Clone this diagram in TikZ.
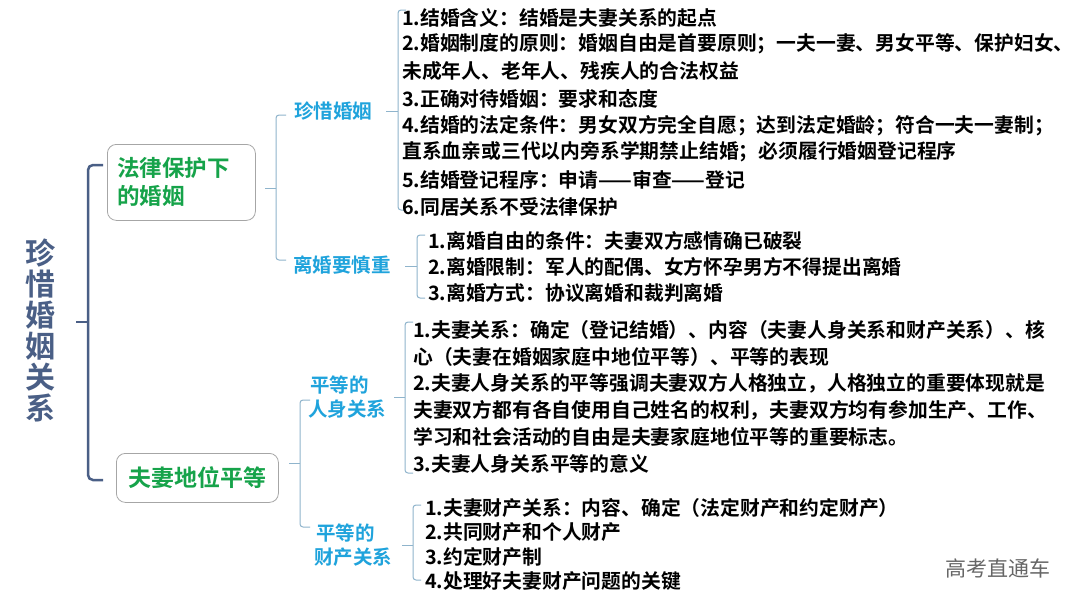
\documentclass[tikz,border=0pt]{standalone}
\usepackage{fontspec}
\setmainfont{Noto Sans CJK SC}[BoldFont={Noto Sans CJK SC Bold}]
\begin{document}
\begin{tikzpicture}[x=1pt,y=-1pt,
  item/.style={anchor=west,inner sep=0pt,font=\bfseries\fontsize{19.8}{22}\selectfont,text=black},
  lab/.style={inner sep=0pt,font=\bfseries\fontsize{19.5}{24}\selectfont,text=labc,align=left},
  box/.style={draw=gray!70,rounded corners=9pt,line width=0.8pt,fill=white},
  brk/.style={draw=brc,line width=1pt,rounded corners=3pt},
  mainbrk/.style={draw=mainc,line width=2.5pt,rounded corners=5pt}]
\definecolor{labc}{HTML}{1FA3DC}
\definecolor{brc}{HTML}{8FB4CC}
\definecolor{mainc}{HTML}{4A5F86}
\definecolor{grn}{HTML}{16A34A}
\useasboundingbox (0,0) rectangle (1080,608);
\fill[white] (0,0) rectangle (1080,608);
% title
\node[inner sep=0pt,align=center,font=\bfseries\fontsize{30}{31}\selectfont,text=mainc] (title) at (40,330) {珍\\惜\\婚\\姻\\关\\系};
% main bracket
\draw[mainbrk] (103,165) -- (88,165) -- (88,480) -- (103,480);
\draw[mainc,line width=2.5pt] (88,322) -- (76,322);
% boxes
\node[box,minimum width=148pt,minimum height=76pt,anchor=north west] (b1) at (107,144) {};
\node[anchor=west,align=left,inner sep=0pt,font=\bfseries\fontsize{22.5}{28}\selectfont,text=grn] (b1t) at (117,182) {法律保护下\\的婚姻};
\node[box,minimum width=162pt,minimum height=49pt,anchor=north west] (b2) at (116,453) {};
\node[inner sep=0pt,font=\bfseries\fontsize{23}{24}\selectfont,text=grn] (b2t) at (b2.center) {夫妻地位平等};
% second-level brackets
\draw[brk] (286,115) -- (276,115) -- (276,260) -- (286,260);
\draw[brc,line width=1pt] (276,188) -- (265,188);
\draw[brk] (310,400) -- (300,400) -- (300,527) -- (310,527);
\draw[brc,line width=1pt] (300,463) -- (289,463);
% labels
\node[lab] (l1) at (333,111) {珍惜婚姻};
\node[lab] (l2) at (342,265) {离婚要慎重};
\node[lab,anchor=west] (l3) at (308,397) {\hspace*{2pt}平等的\\人身关系};
\node[lab,anchor=west] (l4) at (314,545) {\hspace*{2pt}平等的\\财产关系};
% third-level brackets
\draw[brk] (406,10) -- (398,10) -- (398,210) -- (406,210);
\draw[brc,line width=1pt] (398,111) -- (386,111);
\draw[brk] (425,235) -- (417,235) -- (417,298) -- (425,298);
\draw[brc,line width=1pt] (417,266) -- (405,266);
\draw[brk] (413,322) -- (405,322) -- (405,473) -- (413,473);
\draw[brc,line width=1pt] (405,397) -- (394,397);
\draw[brk] (421,505) -- (413,505) -- (413,580) -- (421,580);
\draw[brc,line width=1pt] (413,545) -- (402,545);
% items
\node[item] (a1) at (402,18) {1.结婚含义：结婚是夫妻关系的起点};
\node[item] (a2) at (402,44) {2.婚姻制度的原则：婚姻自由是首要原则；一夫一妻、男女平等、保护妇女、};
\node[item] (a3) at (402,71) {未成年人、老年人、残疾人的合法权益};
\node[item] (a4) at (402,99) {3.正确对待婚姻：要求和态度};
\node[item] (a5) at (402,126) {4.结婚的法定条件：男女双方完全自愿；达到法定婚龄；符合一夫一妻制；};
\node[item] (a6) at (402,152) {直系血亲或三代以内旁系学期禁止结婚；必须履行婚姻登记程序};
\node[item] (a7) at (402,180) {5.结婚登记程序：申请——审查——登记};
\node[item] (a8) at (402,207) {6.同居关系不受法律保护};
\node[item] (c1) at (428,241) {1.离婚自由的条件：夫妻双方感情确已破裂};
\node[item] (c2) at (428,267) {2.离婚限制：军人的配偶、女方怀孕男方不得提出离婚};
\node[item] (c3) at (428,293) {3.离婚方式：协议离婚和裁判离婚};
\node[item] (d1) at (413,330) {1.夫妻关系：确定（登记结婚）、内容（夫妻人身关系和财产关系）、核};
\node[item] (d2) at (413,357) {心（夫妻在婚姻家庭中地位平等）、平等的表现};
\node[item] (d3) at (413,383) {2.夫妻人身关系的平等强调夫妻双方人格独立，人格独立的重要体现就是};
\node[item] (d4) at (413,410) {夫妻双方都有各自使用自己姓名的权利，夫妻双方均有参加生产、工作、};
\node[item] (d5) at (413,437) {学习和社会活动的自由是夫妻家庭地位平等的重要标志。};
\node[item] (d6) at (413,464) {3.夫妻人身关系平等的意义};
\node[item] (e1) at (425,508) {1.夫妻财产关系：内容、确定（法定财产和约定财产）};
\node[item] (e2) at (425,532) {2.共同财产和个人财产};
\node[item] (e3) at (425,557) {3.约定财产制};
\node[item] (e4) at (425,581) {4.处理好夫妻财产问题的关键};
\node[inner sep=0pt,font=\fontsize{21}{22}\selectfont,text=gray!80!black] (wm) at (998,568) {高考直通车};
\end{tikzpicture}
\end{document}
